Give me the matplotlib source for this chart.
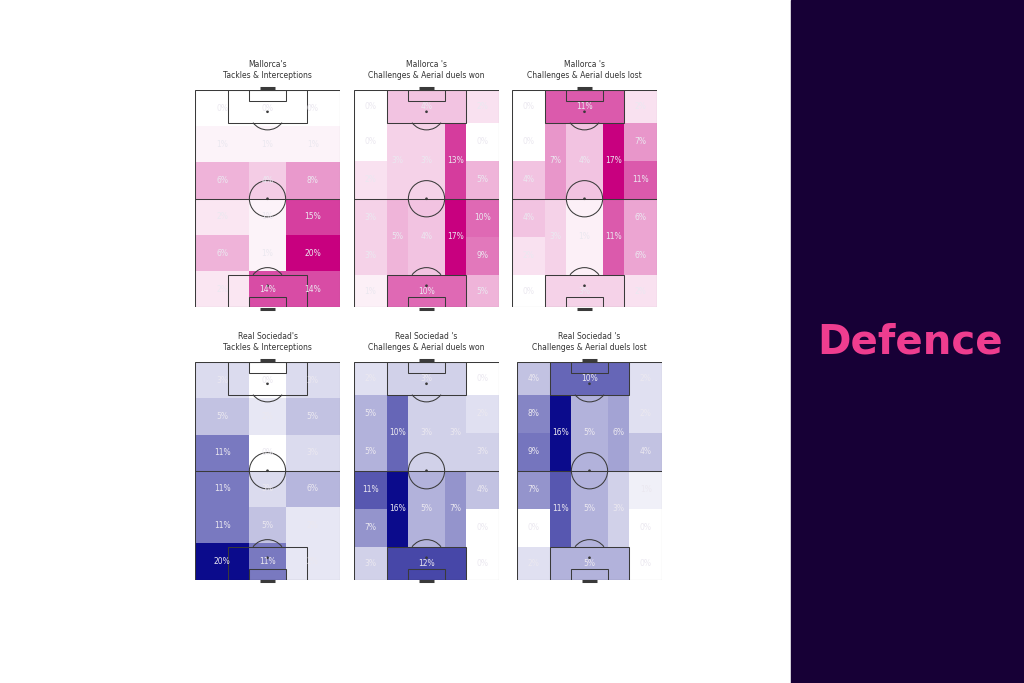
import matplotlib
matplotlib.use("Agg")
import matplotlib.pyplot as plt
from matplotlib.colors import LinearSegmentedColormap, Normalize
from matplotlib.patches import Rectangle, Arc, Circle

# statsbomb pitch drawn vertically: width 0-80 across, length 0-120 upwards
PITCH_W, PITCH_L = 80, 120

# 6x3 grid edges for the tackles & interceptions maps
GRID_COLS = [0, 30, 50, 80]
GRID_ROWS = [0, 20, 40, 60, 80, 100, 120]

# positional zone edges
WING_ROWS = [0, 18, 39, 60, 81, 102, 120]
LANE_COLS = [0, 18, 30, 50, 62, 80]

MAL_COLOR = "#c8007f"
RS_COLOR = "#0b0b8c"

titles = [
    "Mallorca's\nTackles & Interceptions",
    "Mallorca 's\nChallenges & Aerial duels won",
    "Mallorca 's\nChallenges & Aerial duels lost",
    "Real Sociedad's\nTackles & Interceptions",
    "Real Sociedad 's\nChallenges & Aerial duels won",
    "Real Sociedad 's\nChallenges & Aerial duels lost",
]

# grid maps, rows top -> bottom, columns left -> right (%)
mal_ti = [[0, 0, 0], [1, 1, 1], [6, 4, 8], [2, 1, 15], [6, 1, 20], [2, 14, 14]]
rs_ti = [[3, 0, 3], [5, 2, 5], [11, 0, 3], [11, 3, 6], [11, 5, 2], [20, 11, 2]]

# positional maps: wings top -> bottom (6), lanes (top half, bottom half), boxes
mal_won_box = [4, 10]
mal_won_left_wing = [0, 0, 2, 3, 3, 1]
mal_won_left_half = [3, 5]
mal_won_centre = [3, 4]
mal_won_right_half = [13, 17]
mal_won_right_wing = [2, 0, 5, 10, 9, 5]

mal_lost_box = [11, 3]
mal_lost_left_wing = [0, 0, 4, 4, 2, 0]
mal_lost_left_half = [7, 3]
mal_lost_centre = [4, 1]
mal_lost_right_half = [17, 11]
mal_lost_right_wing = [2, 7, 11, 6, 6, 2]

rs_won_box = [3, 12]
rs_won_left_wing = [2, 5, 5, 11, 7, 3]
rs_won_left_half = [10, 16]
rs_won_centre = [3, 5]
rs_won_right_half = [3, 7]
rs_won_right_wing = [0, 2, 3, 4, 0, 0]

rs_lost_box = [10, 5]
rs_lost_left_wing = [4, 8, 9, 7, 0, 2]
rs_lost_left_half = [16, 11]
rs_lost_centre = [5, 5]
rs_lost_right_half = [6, 3]
rs_lost_right_wing = [2, 2, 4, 1, 0, 0]

LINE = "#3a3a3a"
LABEL = "#ebe8f0"


def draw_pitch(ax):
    kw = dict(fill=False, ec=LINE, lw=0.75, zorder=3)
    ax.add_patch(Rectangle((0, 0), PITCH_W, PITCH_L, **kw))
    ax.plot([0, PITCH_W], [60, 60], color=LINE, lw=0.75, zorder=3)
    ax.add_patch(Circle((40, 60), 10, **kw))
    for y0, sgn in [(0, 1), (PITCH_L, -1)]:
        ax.add_patch(Rectangle((18, y0), 44, 18 * sgn, **kw))
        ax.add_patch(Rectangle((30, y0), 20, 6 * sgn, **kw))
        spot = y0 + 12 * sgn
        ax.add_patch(Circle((40, spot), 0.35, color=LINE, zorder=3))
        t1, t2 = (37, 143) if sgn == 1 else (217, 323)
        ax.add_patch(Arc((40, spot), 20, 20, theta1=t1, theta2=t2,
                         color=LINE, lw=0.75, zorder=3))
        ax.plot([36, 44], [y0 - 0.9 * sgn] * 2, color=LINE, lw=2.2,
                solid_capstyle="butt", zorder=3, clip_on=False)
    ax.add_patch(Circle((40, 60), 0.35, color=LINE, zorder=3))


def label(ax, x, y, v):
    ax.text(x, y, f"{v}%", ha="center", va="center", fontsize=5.5,
            color=LABEL, zorder=4)


def grid_map(ax, vals, cmap):
    rows = vals[::-1]
    vmax = max(max(r) for r in vals)
    ax.pcolormesh(GRID_COLS, GRID_ROWS, rows, cmap=cmap, vmin=0, vmax=vmax,
                  zorder=1)
    for i, r in enumerate(rows):
        for j, v in enumerate(r):
            label(ax, (GRID_COLS[j] + GRID_COLS[j + 1]) / 2,
                  (GRID_ROWS[i] + GRID_ROWS[i + 1]) / 2, v)


def positional_map(ax, box, lw_, lh, ce, rh, rw, cmap):
    cells = []
    for col, vals in [(0, lw_), (4, rw)]:
        for k, v in enumerate(vals):
            y1, y0 = WING_ROWS[6 - k], WING_ROWS[5 - k]
            cells.append((LANE_COLS[col], LANE_COLS[col + 1], y0, y1, v))
    for col, vals in [(1, lh), (2, ce), (3, rh)]:
        cells.append((LANE_COLS[col], LANE_COLS[col + 1], 60, 102, vals[0]))
        cells.append((LANE_COLS[col], LANE_COLS[col + 1], 18, 60, vals[1]))
    cells.append((18, 62, 102, 120, box[0]))
    cells.append((18, 62, 0, 18, box[1]))
    norm = Normalize(0, max(c[4] for c in cells))
    for x0, x1, y0, y1, v in cells:
        ax.add_patch(Rectangle((x0, y0), x1 - x0, y1 - y0, lw=0,
                               fc=cmap(norm(v)), zorder=1))
        label(ax, (x0 + x1) / 2, (y0 + y1) / 2, v)


fig = plt.figure(figsize=(10.24, 6.83), dpi=100)
fig.patch.set_facecolor("white")

mal_cmap = LinearSegmentedColormap.from_list("mal", ["#ffffff", MAL_COLOR])
rs_cmap = LinearSegmentedColormap.from_list("rs", ["#ffffff", RS_COLOR])

# pixel boxes (left, top) of each pitch
spots = [(195, 90), (354, 90), (512, 90), (195, 362), (354, 362), (517, 362)]
W, H = 145, 217.5
axes = []
for (px, py), title in zip(spots, titles):
    ax = fig.add_axes([px / 1024, 1 - (py + H) / 683, W / 1024, H / 683])
    ax.set_xlim(0, PITCH_W)
    ax.set_ylim(0, PITCH_L)
    ax.axis("off")
    ax.set_title(title, fontsize=5.5, color="#333333", pad=9, linespacing=1.15)
    axes.append(ax)

grid_map(axes[0], mal_ti, mal_cmap)
positional_map(axes[1], mal_won_box, mal_won_left_wing, mal_won_left_half,
               mal_won_centre, mal_won_right_half, mal_won_right_wing, mal_cmap)
positional_map(axes[2], mal_lost_box, mal_lost_left_wing, mal_lost_left_half,
               mal_lost_centre, mal_lost_right_half, mal_lost_right_wing, mal_cmap)
grid_map(axes[3], rs_ti, rs_cmap)
positional_map(axes[4], rs_won_box, rs_won_left_wing, rs_won_left_half,
               rs_won_centre, rs_won_right_half, rs_won_right_wing, rs_cmap)
positional_map(axes[5], rs_lost_box, rs_lost_left_wing, rs_lost_left_half,
               rs_lost_centre, rs_lost_right_half, rs_lost_right_wing, rs_cmap)
for ax in axes:
    draw_pitch(ax)

# dark side panel with the section name
fig.add_artist(Rectangle((791 / 1024, 0), 1 - 791 / 1024, 1,
                         transform=fig.transFigure, color="#170036", zorder=0))
fig.text(910 / 1024, 1 - 353 / 683, "Defence", ha="center", va="baseline",
         fontsize=29, fontweight="bold", color="#ee3d8f",
         family=["DejaVu Sans"])

fig.savefig("out.png", dpi=100)
